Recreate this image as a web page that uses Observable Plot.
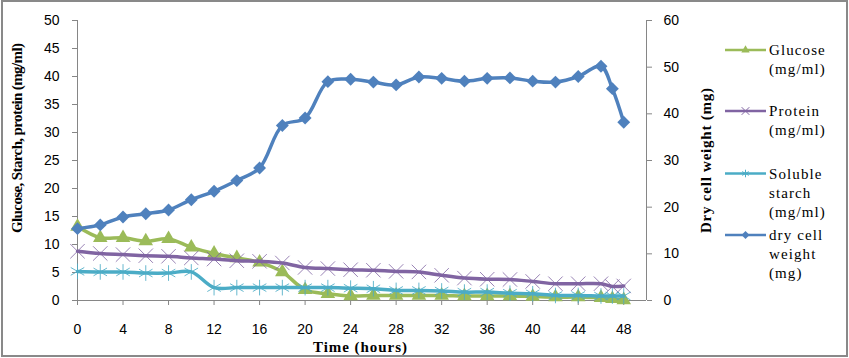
<!DOCTYPE html>
<html><head><meta charset="utf-8">
<script src="https://cdn.jsdelivr.net/npm/d3@7"></script>
<script src="https://cdn.jsdelivr.net/npm/@observablehq/plot@0.6"></script>
<style>
body{margin:0;background:#fff;}
#wrap{position:relative;width:849px;height:358px;overflow:hidden;background:#fff;}
#chart svg{display:block;}
#border{position:absolute;left:1px;top:0;width:847px;height:357px;border:2px solid #898989;box-sizing:border-box;pointer-events:none;}
</style></head><body>
<div id="wrap"><div id="chart"></div><div id="border"></div></div>
<script>
// Time (hours)
const time = [0,2,4,6,8,10,12,14,16,18,20,22,24,26,28,30,32,34,36,38,40,42,44,46,47,48];
// Glucose (mg/ml) - left axis
const glucose = [13.2,11.2,11.2,10.6,11.0,9.5,8.4,7.6,6.8,5.1,1.9,1.2,0.8,0.9,0.9,0.9,0.9,0.8,0.8,0.8,0.7,0.6,0.6,0.5,0.3,0.1];
// Protein (mg/ml) - left axis
const protein = [8.8,8.4,8.2,8.0,7.9,7.6,7.4,7.1,7.0,6.7,5.9,5.7,5.5,5.4,5.2,5.1,4.5,4.0,3.8,3.75,3.4,3.0,3.0,3.0,2.5,2.6];
// Soluble starch (mg/ml) - left axis
const starch = [5.2,5.1,5.1,4.9,4.9,5.1,2.3,2.3,2.3,2.3,2.3,2.3,2.2,2.1,1.8,1.8,1.7,1.5,1.5,1.3,1.2,0.9,0.9,0.8,0.8,0.8];
// Dry cell weight (mg) - right axis
const dcw = [15.4,16.2,17.9,18.6,19.4,21.6,23.4,25.7,28.4,37.5,39.1,46.9,47.4,46.8,46.2,47.9,47.6,47.0,47.6,47.7,47.0,46.8,48.0,50.2,45.4,38.2];

const xTicks = [0,4,8,12,16,20,24,28,32,36,40,44,48];
const leftTicks = [0,5,10,15,20,25,30,35,40,45,50];
const rightTicks = [0,10,20,30,40,50,60];

const rows = time.map((t, i) => ({t, glucose: glucose[i], protein: protein[i], starch: starch[i], dcw: dcw[i]}));
const k = 50 / 60; // right axis (0-60) mapped onto left axis (0-50)
const gray = "#868686";
const C = {glucose: "#9BBB59", protein: "#8064A2", starch: "#4BACC6", dcw: "#4F81BD"};
const lw = 3.5;

const svg = Plot.plot({
  width: 849, height: 358,
  marginLeft: 77, marginRight: 203, marginTop: 20, marginBottom: 58,
  style: {fontFamily: "'Liberation Sans', Arial, sans-serif", fontSize: "14px", background: "white", color: "black"},
  x: {domain: [0, 50]},
  y: {domain: [0, 50]},
  marks: [
    Plot.ruleY([0], {stroke: gray}),
    Plot.ruleX([0], {stroke: gray}),
    Plot.ruleX([50], {stroke: gray}),
    Plot.axisX({ticks: xTicks, tickSize: 5, tickPadding: 19, stroke: gray, fill: "black", label: null}),
    Plot.axisY({ticks: leftTicks, tickSize: 5, tickPadding: 13, stroke: gray, fill: "black", label: null}),
    Plot.axisY({anchor: "right", ticks: rightTicks.map(v => v * k), tickFormat: v => String(Math.round(v / k)), tickSize: 5, tickPadding: 12, stroke: gray, fill: "black", label: null}),
    Plot.line(rows, {x: "t", y: "glucose", stroke: C.glucose, strokeWidth: lw, curve: "catmull-rom", strokeLinejoin: "round"}),
    Plot.dot(rows, {x: "t", y: "glucose", symbol: "triangle", r: 5.4, fill: C.glucose}),
    Plot.line(rows, {x: "t", y: "protein", stroke: C.protein, strokeWidth: lw, curve: "catmull-rom", strokeLinejoin: "round"}),
    Plot.dot(rows, {x: "t", y: "protein", symbol: "times", r: 6.6, stroke: C.protein, strokeWidth: 1, strokeOpacity: 0.8}),
    Plot.line(rows, {x: "t", y: "starch", stroke: C.starch, strokeWidth: lw, curve: "catmull-rom", strokeLinejoin: "round"}),
    Plot.dot(rows, {x: "t", y: "starch", symbol: "asterisk", r: 7.4, stroke: C.starch, strokeWidth: 1, strokeOpacity: 0.85}),
    Plot.line(rows, {x: "t", y: d => d.dcw * k, stroke: C.dcw, strokeWidth: lw, curve: "catmull-rom", strokeLinejoin: "round"}),
    Plot.dot(rows, {x: "t", y: d => d.dcw * k, symbol: "diamond2", r: 5.8, fill: C.dcw})
  ]
});
document.getElementById("chart").appendChild(svg);

const s = d3.select(svg);
const serif = "'Liberation Serif', 'Times New Roman', serif";
// axis titles
s.append("text").attr("transform", "translate(22,138) rotate(-90)")
  .attr("text-anchor", "middle").attr("font-family", serif).attr("font-size", 15).attr("font-weight", "bold")
  .attr("textLength", 190).attr("lengthAdjust", "spacing").attr("fill", "black")
  .text("Glucose, Starch, protein (mg/ml)");
s.append("text").attr("transform", "translate(711,160.5) rotate(-90)")
  .attr("text-anchor", "middle").attr("font-family", serif).attr("font-size", 15).attr("font-weight", "bold")
  .attr("textLength", 145).attr("lengthAdjust", "spacing").attr("fill", "black")
  .text("Dry cell weight (mg)");
s.append("text").attr("x", 360).attr("y", 352)
  .attr("text-anchor", "middle").attr("font-family", serif).attr("font-size", 15).attr("font-weight", "bold")
  .attr("textLength", 94).attr("lengthAdjust", "spacing").attr("fill", "black")
  .text("Time (hours)");

// legend
const legend = [
  {lines: ["Glucose", "(mg/ml)"], y: 50, color: C.glucose, sym: d3.symbolTriangle, size: 30, fill: true},
  {lines: ["Protein", "(mg/ml)"], y: 111, color: C.protein, sym: d3.symbolTimes, size: 40, fill: false},
  {lines: ["Soluble", "starch", "(mg/ml)"], y: 173.5, color: C.starch, sym: d3.symbolAsterisk, size: 40, fill: false},
  {lines: ["dry cell", "weight", "(mg)"], y: 235, color: C.dcw, sym: d3.symbolDiamond2, size: 40, fill: true}
];
const lg = s.append("g").attr("text-anchor", "start");
legend.forEach((it) => {
  lg.append("line").attr("x1", 725).attr("x2", 766).attr("y1", it.y).attr("y2", it.y)
    .attr("stroke", it.color).attr("stroke-width", 2.5);
  lg.append("path").attr("transform", `translate(745.5,${it.y})`)
    .attr("d", d3.symbol(it.sym, it.size)())
    .attr("fill", it.fill ? it.color : "none").attr("stroke", it.fill ? "none" : it.color).attr("stroke-width", 1);
  const tx = lg.append("text").attr("text-anchor", "start").attr("font-family", serif).attr("font-size", 15)
    .attr("fill", "black").attr("letter-spacing", "1.1px");
  it.lines.forEach((ln, j) => {
    tx.append("tspan").attr("x", 769).attr("y", it.y + 5 + j * 19).attr("text-anchor", "start").text(ln);
  });
});
</script>
</body></html>
